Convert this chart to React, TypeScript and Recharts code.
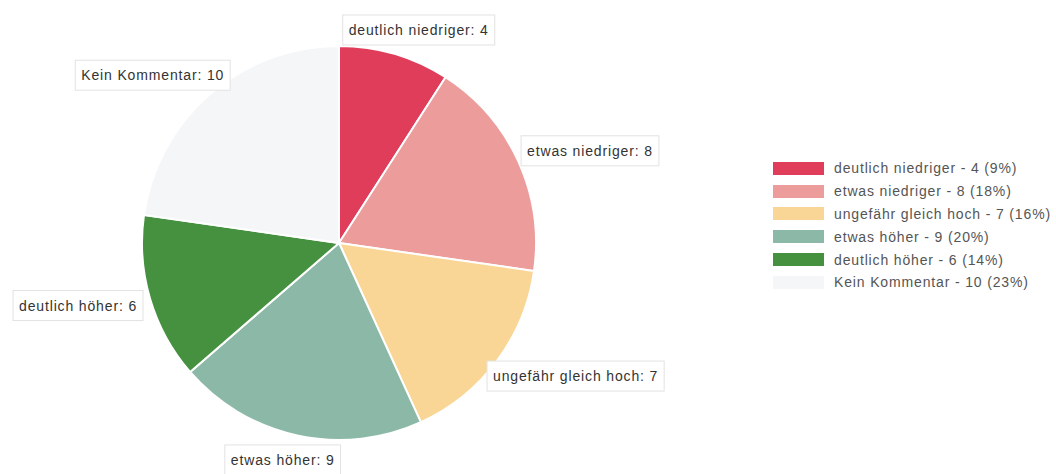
import React from "react";
import { PieChart, Pie, Cell, Legend } from "recharts";

const CATEGORIES = [
  "deutlich niedriger",
  "etwas niedriger",
  "ungefähr gleich hoch",
  "etwas höher",
  "deutlich höher",
  "Kein Kommentar",
];
const COUNTS = [4, 8, 7, 9, 6, 10];
const COLORS = ["#e03d5b", "#ed9c9c", "#f9d696", "#8cb9a7", "#45913f", "#f4f6f8"];

const FONT = "'Liberation Sans', Arial, sans-serif";
const FONT_SIZE = 14;
const SPACING = 0.85;
const TOTAL = COUNTS.reduce((a, b) => a + b, 0);

const data = CATEGORIES.map((name, i) => ({ name, value: COUNTS[i] }));

let ctx: CanvasRenderingContext2D | null = null;
function textWidth(t: string) {
  if (!ctx) ctx = document.createElement("canvas").getContext("2d");
  if (!ctx) return t.length * 7.5;
  ctx.font = `${FONT_SIZE}px ${FONT}`;
  return ctx.measureText(t).width + t.length * SPACING;
}

function renderLabel(props: any) {
  const { cx, cy, midAngle, outerRadius, name, value } = props;
  const rad = (-midAngle * Math.PI) / 180;
  const R = outerRadius + 10;
  const px = cx + R * Math.cos(rad);
  const py = cy + R * Math.sin(rad);
  const s = Math.cos((midAngle * Math.PI) / 180);
  const c = Math.sin((midAngle * Math.PI) / 180);
  const text = `${name}: ${value}`;
  const w = textWidth(text) + 12;
  const h = 30;
  const left = px - (w * (1 - s)) / 2;
  const top = py - (h * (1 + c)) / 2;
  return (
    <g>
      <rect x={left} y={top} width={w} height={h} fill="#fff" stroke="#e2e2e2" strokeWidth={1} />
      <text
        x={left + 6}
        y={top + h / 2 + 5}
        fontSize={FONT_SIZE}
        fontFamily={FONT}
        letterSpacing={SPACING}
        fill="#333"
      >
        {text}
      </text>
    </g>
  );
}

function LegendContent() {
  return (
    <div style={{ fontFamily: FONT, fontSize: FONT_SIZE, letterSpacing: SPACING, color: "#555" }}>
      {data.map((d, i) => (
        <div key={d.name} style={{ display: "flex", alignItems: "center", height: 22.8 }}>
          <div style={{ width: 51, height: 13, background: COLORS[i], marginRight: 10 }} />
          <span>{`${d.name} - ${d.value} (${Math.round((d.value / TOTAL) * 100)}%)`}</span>
        </div>
      ))}
    </div>
  );
}

export default function App() {
  return (
    <div style={{ position: "absolute", left: 0, top: 0, background: "#fff" }}>
      <PieChart width={1056} height={474}>
        <Pie
          data={data}
          dataKey="value"
          nameKey="name"
          cx={334}
          cy={238}
          outerRadius={197}
          startAngle={90}
          endAngle={-270}
          stroke="#fff"
          strokeWidth={2}
          label={renderLabel}
          labelLine={false}
          isAnimationActive={false}
        >
          {data.map((d, i) => (
            <Cell key={d.name} fill={COLORS[i]} />
          ))}
        </Pie>
        <Legend
          content={<LegendContent />}
          wrapperStyle={{ position: "absolute", left: 773, top: 157, width: 283 }}
        />
      </PieChart>
    </div>
  );
}
